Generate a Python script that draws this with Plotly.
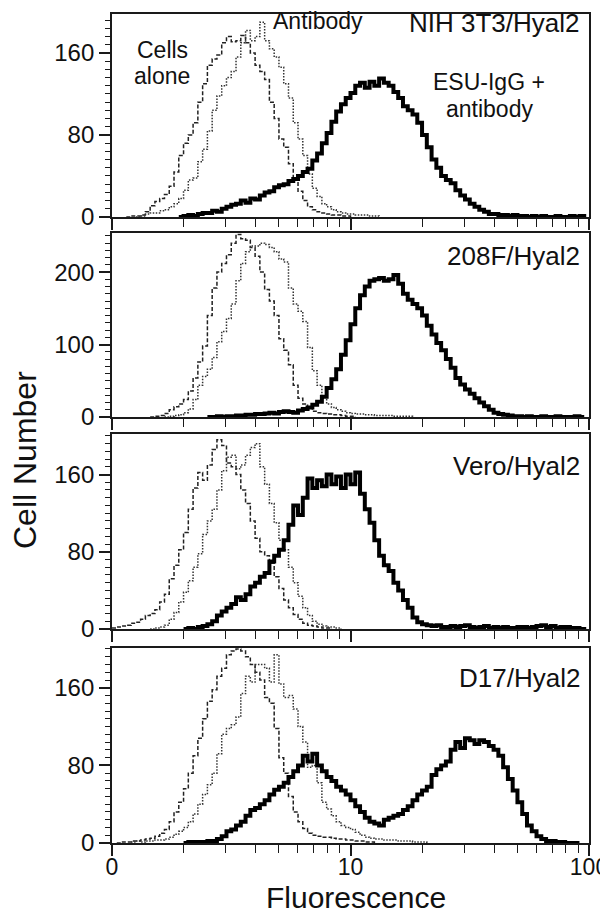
import plotly.graph_objects as go

# ---------------- data ----------------
STEP = 0.02  # channel width, in decades of fluorescence

x_tick_vals = [1, 10, 100]
x_tick_text = ["0", "10", "100"]
x_minor_vals = [2, 3, 4, 5, 6, 7, 8, 9, 20, 30, 40, 50, 60, 70, 80, 90]

panel_names = ["NIH 3T3/Hyal2", "208F/Hyal2", "Vero/Hyal2", "D17/Hyal2"]
y_tops = [198, 254, 202, 201]
y_major = [[0, 80, 160], [0, 100, 200], [0, 80, 160], [0, 80, 160]]
y_minor_step = [8, 10, 8, 8]

# Panel 1: NIH 3T3/Hyal2  (start = log10 of first channel)
nih_cells_start = 0.06
nih_cells = [0, 1, 1, 2, 5, 11, 15, 18, 22, 30, 44, 60, 72, 80, 92, 112, 130, 148, 154, 158,
             170, 176, 171, 172, 177, 170, 160, 148, 142, 134, 112, 96, 76, 68, 52, 36, 25, 16,
             10, 7, 5, 4, 3, 2, 2, 1, 1, 0]
nih_ab_start = 0.10
nih_ab = [0, 1, 3, 4, 4, 6, 7, 10, 13, 18, 26, 36, 38, 54, 66, 84, 104, 118, 128, 136, 142, 156,
          170, 182, 172, 176, 190, 172, 164, 156, 146, 130, 116, 92, 76, 60, 42, 28, 20, 13, 10,
          7, 5, 4, 3, 3, 2, 2, 2, 1, 1, 0]
nih_esu_start = 0.28
nih_esu = [0, 1, 2, 1, 3, 4, 4, 6, 5, 8, 10, 12, 13, 16, 14, 18, 17, 21, 24, 25, 29, 31, 32, 35,
           37, 40, 44, 47, 55, 62, 72, 82, 93, 103, 110, 116, 121, 128, 131, 126, 132, 128, 135,
           131, 128, 122, 116, 108, 104, 100, 92, 80, 68, 56, 48, 40, 36, 33, 26, 21, 17, 13, 10,
           7, 5, 3, 3, 2, 2, 1, 2, 1, 1, 0, 1, 0, 1, 0, 0, 1, 0, 0, 1, 0, 1, 0]

# Panel 2: 208F/Hyal2
f208_cells_start = 0.16
f208_cells = [0, 1, 2, 5, 10, 14, 18, 24, 36, 54, 76, 98, 140, 178, 200, 212, 224, 240, 252,
              246, 244, 234, 222, 200, 176, 160, 140, 108, 92, 72, 44, 26, 18, 12, 8, 6, 5, 4,
              3, 3, 2, 1, 1, 0]
f208_ab_start = 0.22
f208_ab = [0, 1, 2, 3, 6, 11, 24, 44, 56, 66, 82, 104, 118, 136, 156, 188, 212, 228, 236, 236,
           240, 238, 234, 228, 218, 214, 178, 156, 146, 132, 96, 64, 44, 28, 18, 13, 10, 8, 6, 5,
           4, 4, 3, 3, 2, 2, 2, 2, 1, 1, 1, 1, 0]
f208_esu_start = 0.40
f208_esu = [0, 0, 1, 0, 1, 1, 2, 2, 3, 3, 4, 4, 5, 6, 5, 7, 8, 7, 6, 9, 11, 13, 17, 21, 28, 40,
            52, 66, 86, 106, 128, 150, 168, 180, 188, 190, 192, 188, 190, 196, 184, 170, 162,
            156, 150, 140, 126, 114, 102, 92, 80, 68, 54, 45, 38, 32, 26, 20, 15, 10, 6, 4, 3, 2,
            1, 1, 0, 1, 0, 0, 1, 0, 0, 1, 0, 0, 0, 1, 0, 0]

# Panel 3: Vero/Hyal2
vero_cells_start = 0.00
vero_cells = [1, 2, 3, 4, 6, 7, 10, 14, 16, 20, 28, 36, 52, 66, 82, 100, 124, 146, 162, 154,
              170, 186, 196, 190, 172, 168, 160, 144, 130, 112, 94, 80, 76, 68, 54, 42, 30, 22,
              15, 10, 6, 4, 3, 2, 1, 1, 0]
vero_ab_start = 0.16
vero_ab = [0, 1, 2, 4, 10, 17, 28, 38, 50, 64, 78, 98, 112, 124, 144, 164, 178, 180, 166, 170,
           180, 188, 192, 168, 150, 130, 110, 92, 82, 64, 48, 34, 22, 14, 8, 5, 3, 2, 2, 1, 0]
vero_esu_start = 0.30
vero_esu = [0, 1, 0, 2, 3, 5, 8, 14, 18, 22, 26, 33, 30, 36, 44, 48, 54, 58, 70, 76, 82, 92, 108,
            128, 118, 136, 156, 146, 154, 148, 160, 150, 158, 146, 160, 150, 162, 140, 124, 110,
            92, 76, 66, 60, 48, 40, 30, 22, 12, 7, 5, 4, 3, 4, 2, 2, 3, 2, 3, 4, 2, 1, 2, 3, 1, 2,
            1, 2, 1, 1, 2, 2, 1, 2, 3, 4, 2, 3, 1, 2, 2, 1, 1, 0, 2]

# Panel 4: D17/Hyal2
d17_cells_start = 0.02
d17_cells = [0, 1, 1, 2, 2, 3, 4, 5, 7, 10, 14, 22, 32, 42, 56, 72, 90, 108, 128, 146, 158, 172,
             180, 194, 198, 200, 198, 192, 184, 176, 168, 150, 144, 118, 88, 72, 48, 32, 22, 15,
             10, 8, 7, 6, 6, 5, 4, 4, 3, 3, 2, 2, 1, 1, 0]
d17_ab_start = 0.08
d17_ab = [1, 2, 1, 2, 2, 3, 3, 4, 6, 9, 12, 16, 22, 30, 40, 50, 60, 72, 92, 112, 118, 122, 130,
          154, 172, 166, 184, 184, 180, 166, 194, 164, 150, 152, 138, 120, 104, 78, 80, 62, 42,
          35, 28, 22, 18, 16, 14, 11, 8, 6, 5, 4, 4, 3, 3, 3, 2, 2, 2, 1, 1, 1, 0]
d17_esu_start = 0.30
d17_esu = [0, 1, 1, 1, 1, 2, 2, 4, 7, 12, 14, 18, 22, 28, 34, 36, 40, 44, 50, 55, 58, 62, 68, 74,
           80, 90, 84, 92, 80, 74, 68, 64, 58, 54, 50, 44, 38, 32, 26, 22, 20, 18, 24, 26, 28, 30,
           34, 38, 44, 50, 54, 58, 70, 76, 80, 84, 96, 104, 98, 108, 106, 102, 106, 104, 100, 96,
           90, 78, 66, 54, 42, 30, 18, 12, 7, 4, 2, 2, 1, 1, 0, 0, 0, 0]

panels = [
    [(nih_cells_start, nih_cells), (nih_ab_start, nih_ab), (nih_esu_start, nih_esu)],
    [(f208_cells_start, f208_cells), (f208_ab_start, f208_ab), (f208_esu_start, f208_esu)],
    [(vero_cells_start, vero_cells), (vero_ab_start, vero_ab), (vero_esu_start, vero_esu)],
    [(d17_cells_start, d17_cells), (d17_ab_start, d17_ab), (d17_esu_start, d17_esu)],
]
series_names = ["Cells alone", "Antibody", "ESU-IgG + antibody"]

# ---------------- layout constants ----------------
# The page body adds an 8 px margin, so every window-pixel position below is
# converted into figure pixels (the figure starts 8 px in from the window edge).
PAGE_PAD = 8
W, H = 608, 920 - PAGE_PAD
LEFT, RIGHT = 112 - PAGE_PAD, 589 - PAGE_PAD
panel_px = [(14, 217), (233, 417), (434, 629), (648, 843)]  # window px: top, bottom
TOP, BOTTOM = panel_px[0][0] - PAGE_PAD, panel_px[-1][1] - PAGE_PAD
ML, MR, MT, MB = LEFT, W - RIGHT, TOP, H - BOTTOM
PW, PH = RIGHT - LEFT, BOTTOM - TOP

def ypaper(py):
    return (BOTTOM - (py - PAGE_PAD)) / PH

def xpaper(px):
    return ((px - PAGE_PAD) - LEFT) / PW

FONT = "Liberation Sans, Arial, Helvetica, sans-serif"
LINE_COLOR = "#1a1a1a"
TXT = "#111111"

styles = [
    dict(color="#222222", width=1.5, dash="4px,2px"),
    dict(color="#333333", width=1.5, dash="1.5px,1.5px"),
    dict(color="#000000", width=4),
]

fig = go.Figure()

for p, traces in enumerate(panels):
    xa = "x" if p == 0 else f"x{p + 1}"
    ya = "y" if p == 0 else f"y{p + 1}"
    for s, (start, vals) in enumerate(traces):
        xs = [10 ** (start + i * STEP) for i in range(len(vals))]
        fig.add_trace(go.Scatter(
            x=xs, y=vals, mode="lines", line=dict(shape="hv", **styles[s]),
            name=series_names[s], showlegend=False, xaxis=xa, yaxis=ya,
            hoverinfo="skip",
        ))

for p in range(4):
    top, bot = panel_px[p]
    xkey = "xaxis" if p == 0 else f"xaxis{p + 1}"
    ykey = "yaxis" if p == 0 else f"yaxis{p + 1}"
    ya = "y" if p == 0 else f"y{p + 1}"
    xa = "x" if p == 0 else f"x{p + 1}"
    fig.layout[xkey] = dict(
        type="log", range=[0, 2], domain=[0, 1], anchor=ya, automargin=False,
        showline=True, linecolor=LINE_COLOR, linewidth=1.8, mirror=True,
        showgrid=False, zeroline=False,
        tickmode="array", tickvals=x_tick_vals, ticktext=x_tick_text,
        ticks="outside", ticklen=11, tickwidth=1.5, tickcolor=LINE_COLOR,
        showticklabels=(p == 3), ticklabelstandoff=-9, ticklabeloverflow="allow",
        tickfont=dict(family=FONT, size=23, color=TXT),
        minor=dict(tickmode="array", tickvals=x_minor_vals, ticks="outside",
                   ticklen=8, tickwidth=1.4, tickcolor=LINE_COLOR, showgrid=False),
        fixedrange=True,
    )
    fig.layout[ykey] = dict(
        range=[0, y_tops[p]], domain=[ypaper(bot), ypaper(top)], anchor=xa, automargin=False,
        showline=True, linecolor=LINE_COLOR, linewidth=1.8, mirror=True,
        showgrid=False, zeroline=False,
        tickmode="array", tickvals=y_major[p],
        ticks="outside", ticklen=11, tickwidth=1.5, tickcolor=LINE_COLOR,
        tickfont=dict(family=FONT, size=24, color=TXT),
        minor=dict(dtick=y_minor_step[p], ticks="outside", ticklen=5,
                   tickwidth=1.2, tickcolor=LINE_COLOR, showgrid=False),
        fixedrange=True,
    )

ann = []
def add_text(text, px, py, xanchor="left", size=23):
    ann.append(dict(text=text, x=xpaper(px), y=ypaper(py), xref="paper", yref="paper",
                    xanchor=xanchor, yanchor="middle", showarrow=False,
                    font=dict(family=FONT, size=size, color=TXT), align="center"))

label_y = [23, 256, 466, 678]
for p in range(4):
    add_text(panel_names[p], 582, label_y[p], xanchor="right", size=26)
add_text("Antibody", 271, 21)
add_text("Cells", 162, 50, xanchor="center")
add_text("alone", 162, 76, xanchor="center")
add_text("ESU-IgG +", 489, 82, xanchor="center")
add_text("antibody", 489, 109, xanchor="center")

# axis titles
ann.append(dict(text="Fluorescence", x=xpaper(356), y=ypaper(897), xref="paper", yref="paper",
                xanchor="center", yanchor="middle", showarrow=False,
                font=dict(family=FONT, size=30, color=TXT)))
ann.append(dict(text="Cell Number", x=xpaper(25), y=ypaper(460), xref="paper", yref="paper",
                xanchor="center", yanchor="middle", showarrow=False, textangle=-90,
                font=dict(family=FONT, size=32, color=TXT)))

fig.update_layout(
    template="none",
    width=W, height=H, margin=dict(l=ML, r=MR, t=MT, b=MB, autoexpand=False),
    paper_bgcolor="white", plot_bgcolor="white",
    annotations=ann, showlegend=False,
)

fig.write_html("out.html")
